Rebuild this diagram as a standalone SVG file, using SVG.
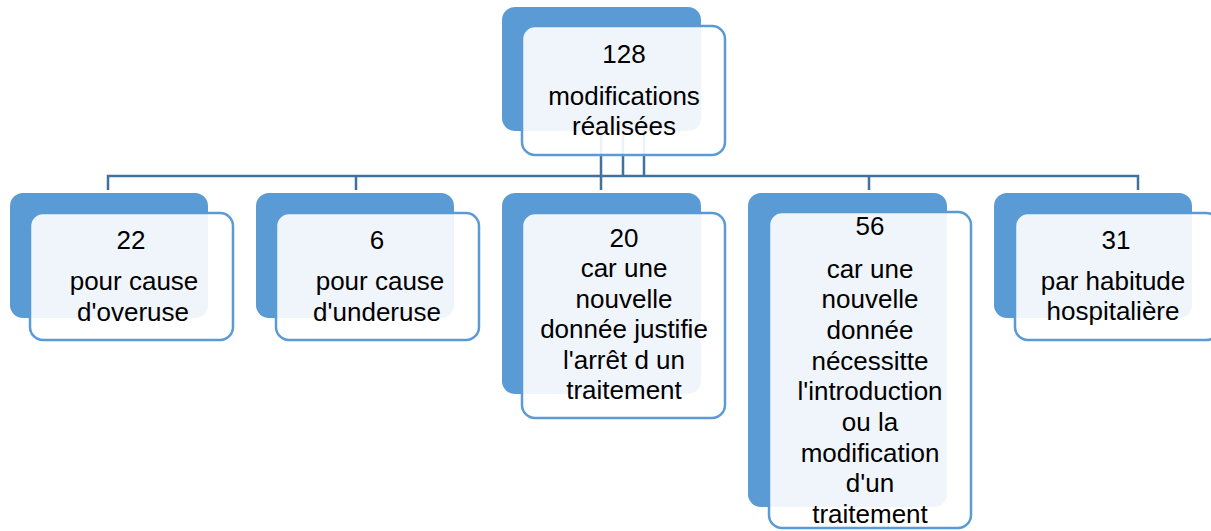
<svg xmlns="http://www.w3.org/2000/svg" width="1211" height="531" viewBox="0 0 1211 531">
<style>
.back{fill:#5B9BD5;}
.front{fill:#FFFFFF;fill-opacity:0.9;stroke:#5B9BD5;stroke-width:2.5;}
.conn{fill:none;stroke:#41719C;stroke-width:2.5;}
text{font-family:"Liberation Sans",Arial,sans-serif;font-size:26px;fill:#000000;text-anchor:middle;}
</style>
<rect width="1211" height="531" fill="#FFFFFF"/>
<g id="backs">
<rect class="back" x="502" y="7" width="199" height="124" rx="13"/>
<rect class="back" x="10" y="193" width="198" height="125" rx="13"/>
<rect class="back" x="256" y="193" width="198" height="125" rx="13"/>
<rect class="back" x="502" y="193" width="199" height="201" rx="13"/>
<rect class="back" x="748" y="193" width="199" height="314" rx="13"/>
<rect class="back" x="994" y="193" width="198" height="125" rx="13"/>
</g>
<g id="connectors">
<path class="conn" d="M601 131V190M623 131V176M644 131V176M108 190V176H1138V190M356 176V190M869 176V190"/>
</g>
<g id="node-root">
<rect class="front" x="522" y="26" width="203" height="129" rx="13"/>
<text x="624" y="63">128</text>
<text x="624" y="105">modifications</text>
<text x="624" y="135">réalisées</text>
</g>
<g id="node-overuse">
<rect class="front" x="30" y="213" width="203" height="127" rx="13"/>
<text x="131" y="249">22</text>
<text x="134" y="290">pour cause</text>
<text x="133" y="321">d'overuse</text>
</g>
<g id="node-underuse">
<rect class="front" x="276" y="213" width="203" height="127" rx="13"/>
<text x="377" y="249">6</text>
<text x="380" y="290">pour cause</text>
<text x="377" y="321">d'underuse</text>
</g>
<g id="node-arret">
<rect class="front" x="522" y="213" width="203" height="205" rx="13"/>
<text x="624" y="247">20</text>
<text x="624" y="277">car une</text>
<text x="624" y="308">nouvelle</text>
<text x="624" y="338">donnée justifie</text>
<text x="624" y="369">l'arrêt d un</text>
<text x="624" y="399">traitement</text>
</g>
<g id="node-introduction">
<rect class="front" x="769" y="212" width="202" height="316" rx="13"/>
<text x="870" y="235">56</text>
<text x="870" y="278">car une</text>
<text x="870" y="308">nouvelle</text>
<text x="870" y="339">donnée</text>
<text x="870" y="370">nécessitte</text>
<text x="870" y="400">l'introduction</text>
<text x="870" y="431">ou la</text>
<text x="870" y="462">modification</text>
<text x="870" y="492">d'un</text>
<text x="870" y="523">traitement</text>
</g>
<g id="node-habitude">
<rect class="front" x="1015" y="213" width="204" height="127" rx="13"/>
<text x="1116" y="249">31</text>
<text x="1113" y="290">par habitude</text>
<text x="1113" y="320">hospitalière</text>
</g>
</svg>
